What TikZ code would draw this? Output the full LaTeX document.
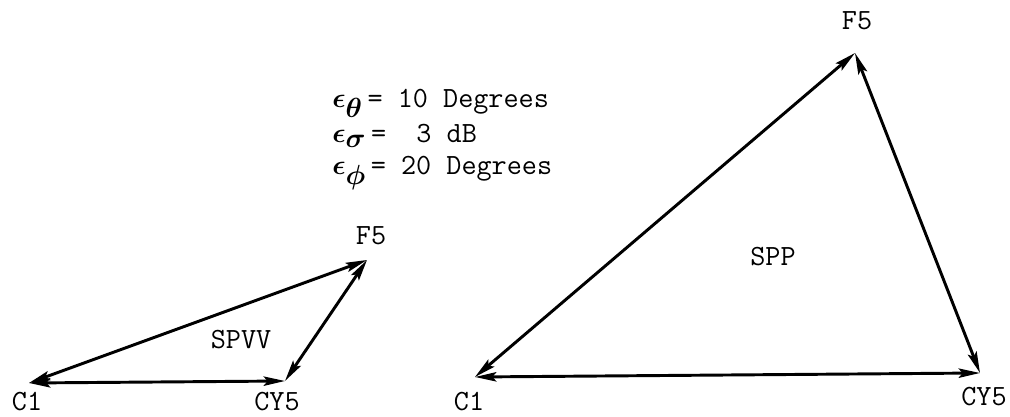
\documentclass[tikz,border=0pt]{standalone}
\usepackage{amsmath,amssymb,bm}
\usepackage{fontspec}
\usepackage{tikz}
\usetikzlibrary{arrows.meta,calc,positioning}
\newcommand\tyfont{\ttfamily\fontsize{22}{26}\selectfont}
\newcommand\errsym[1]{$\bm{\epsilon}_{\textstyle\bm{#1}}$\,}
\begin{document}
\begin{tikzpicture}[x=0.75pt,y=0.75pt,>=Stealth]
  \tikzset{
    vec/.style={line width=2.2pt,{Stealth[length=16pt,width=7pt,inset=3pt]}-{Stealth[length=16pt,width=7pt,inset=3pt]}},
    lbl/.style={font=\tyfont,inner sep=0pt},
    eqn/.style={font=\tyfont,inner sep=0pt,anchor=base west}
  }
  \useasboundingbox (0,0) rectangle (1010,417);
  % small triangle
  \coordinate (C1a) at (29,34);
  \coordinate (CY5a) at (285,36);
  \coordinate (F5a) at (367,157);
  % large triangle
  \coordinate (C1b) at (475,40);
  \coordinate (CY5b) at (980,44);
  \coordinate (F5b) at (855,364);
  \draw[vec] (C1a)--(CY5a);
  \draw[vec] (CY5a)--(F5a);
  \draw[vec] (F5a)--(C1a);
  \draw[vec] (C1b)--(CY5b);
  \draw[vec] (CY5b)--(F5b);
  \draw[vec] (F5b)--(C1b);
  \node[lbl] (c1alab) at (27,15) {C1};
  \node[lbl] (cy5alab) at (277,15) {CY5};
  \node[lbl] (f5alab) at (371,181) {F5};
  \node[lbl] (spvv) at (241,77) {SPVV};
  \node[lbl] (c1blab) at (469,15) {C1};
  \node[lbl] (cy5blab) at (984,20) {CY5};
  \node[lbl] (f5blab) at (857,396) {F5};
  \node[lbl] (spp) at (773,160) {SPP};
  % tolerances
  \node[eqn] (etheta) at (332,309) {\errsym{\theta}= 10 Degrees};
  \node[eqn] (esigma) at (332,274) {\errsym{\sigma}=\phantom{1} 3 dB};
  \node[eqn] (ephi) at (332,242) {\errsym{\phi}= 20 Degrees};
\end{tikzpicture}
\end{document}
